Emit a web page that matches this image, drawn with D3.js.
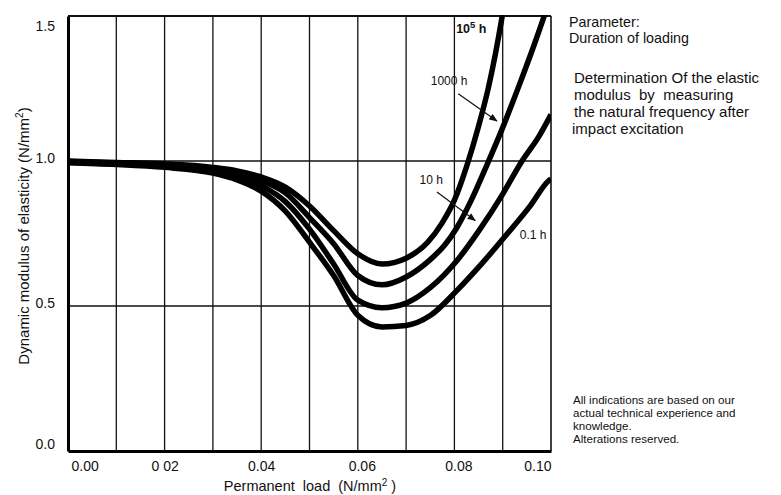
<!DOCTYPE html>
<html>
<head>
<meta charset="utf-8">
<script src="https://cdn.jsdelivr.net/npm/d3@7"></script>
<style>
  body { margin: 0; background: #fff; }
  svg { font-family: "Liberation Sans", Arial, sans-serif; }
  .note { fill: #111; }
</style>
</head>
<body>
<svg id="svg" width="781" height="495"></svg>
<script>
// values, x = permanent load (N/mm2), y = dynamic modulus (N/mm2)
var xTicks = [0, 0.02, 0.04, 0.06, 0.08, 0.10];
var xTickLabels = ["0.00", "0 02", "0.04", "0.06", "0.08", "0.10"];
var yTicks = [0, 0.5, 1.0, 1.5];
var yTickLabels = ["0.0", "0.5", "1.0", "1.5"];
var xGrid = [0.01, 0.02, 0.03, 0.04, 0.05, 0.06, 0.07, 0.08, 0.09];
var yGrid = [0.5, 1.0];

var load = {
  h1e5: [0, 0.01, 0.02, 0.03, 0.035, 0.04, 0.045, 0.05, 0.055, 0.06, 0.065, 0.07, 0.0745, 0.0774, 0.08, 0.0825, 0.085, 0.087, 0.0885, 0.0897, 0.0905],
  h1000: [0, 0.01, 0.02, 0.03, 0.035, 0.04, 0.045, 0.05, 0.055, 0.06, 0.065, 0.07, 0.075, 0.078, 0.0805, 0.0835, 0.0867, 0.09, 0.0935, 0.0965, 0.0985, 0.10],
  h10: [0, 0.01, 0.02, 0.03, 0.035, 0.04, 0.045, 0.05, 0.055, 0.06, 0.065, 0.07, 0.075, 0.0805, 0.0853, 0.090, 0.094, 0.0975, 0.10],
  h01: [0, 0.01, 0.02, 0.03, 0.035, 0.04, 0.045, 0.05, 0.055, 0.06, 0.065, 0.07, 0.075, 0.0805, 0.0853, 0.0909, 0.0957, 0.0994, 0.10]
};
var modulus = {
  h1e5: [1.0, 0.995, 0.99, 0.978, 0.966, 0.945, 0.91, 0.845, 0.76, 0.68, 0.645, 0.665, 0.72, 0.785, 0.865, 0.98, 1.12, 1.25, 1.37, 1.48, 1.56],
  h1000: [0.998, 0.993, 0.986, 0.972, 0.958, 0.932, 0.89, 0.805, 0.715, 0.605, 0.573, 0.60, 0.66, 0.71, 0.77, 0.865, 0.985, 1.115, 1.265, 1.40, 1.495, 1.57],
  h10: [0.996, 0.99, 0.982, 0.965, 0.948, 0.915, 0.86, 0.765, 0.645, 0.52, 0.494, 0.51, 0.563, 0.656, 0.765, 0.886, 1.0, 1.085, 1.16],
  h01: [0.994, 0.988, 0.978, 0.958, 0.935, 0.896, 0.827, 0.72, 0.605, 0.468, 0.428, 0.433, 0.467, 0.553, 0.639, 0.748, 0.845, 0.93, 0.938]
};
var seriesKeys = ["h1e5", "h1000", "h10", "h01"];

var margin = {top: 16, right: 230, bottom: 44, left: 68};
var width = 551 - margin.left;
var height = 451 - margin.top;

var svg = d3.select("#svg");
var xScale = d3.scaleLinear().domain([0, 0.10]).range([0, width]);
var yScale = d3.scaleLinear().domain([0, 1.5]).range([height, 0]);

svg.append("defs").append("clipPath").attr("id", "clip")
  .append("rect").attr("x", 0).attr("y", -1).attr("width", width).attr("height", height + 1);

var g = svg.append("g").attr("transform", `translate(${margin.left}, ${margin.top})`);

// grid
g.selectAll(".vgrid").data(xGrid).join("line")
  .attr("x1", d => xScale(d)).attr("x2", d => xScale(d))
  .attr("y1", 0).attr("y2", height)
  .attr("stroke", "#111").attr("stroke-width", 1.3);
g.selectAll(".hgrid").data(yGrid).join("line")
  .attr("x1", 0).attr("x2", width)
  .attr("y1", d => yScale(d)).attr("y2", d => yScale(d))
  .attr("stroke", "#111").attr("stroke-width", 1.5);

// frame
g.append("line").attr("x1", 0).attr("x2", width).attr("y1", 0).attr("y2", 0).attr("stroke", "#111").attr("stroke-width", 2);
g.append("line").attr("x1", width).attr("x2", width).attr("y1", 0).attr("y2", height).attr("stroke", "#111").attr("stroke-width", 1.6);

// curves
var line = d3.line()
  .x(d => xScale(d[0]))
  .y(d => yScale(d[1]))
  .curve(d3.curveMonotoneX);

g.append("g").attr("clip-path", "url(#clip)")
  .selectAll("path")
  .data(seriesKeys.map(k => d3.zip(load[k], modulus[k])))
  .join("path")
  .attr("fill", "none")
  .attr("stroke", "#000")
  .attr("stroke-width", 5.5)
  .attr("stroke-linejoin", "round")
  .attr("stroke-linecap", "butt")
  .attr("d", line);

// axes
var xAxis = g.append("g").attr("transform", `translate(0, ${height})`)
  .call(d3.axisBottom(xScale).tickValues(xTicks).tickSize(0).tickPadding(10)
    .tickFormat((d, i) => xTickLabels[i]));
xAxis.select(".domain").attr("stroke", "#000").attr("stroke-width", 3);
xAxis.selectAll("text").attr("font-size", 14).attr("fill", "#111").attr("font-family", "Liberation Sans, Arial, sans-serif");
xAxis.selectAll(".tick").filter((d, i) => i === 0).select("text").attr("text-anchor", "start").attr("dx", 3);
xAxis.selectAll(".tick").filter((d, i) => i === xTicks.length - 1).select("text").attr("text-anchor", "end").attr("dx", 0);
xAxis.selectAll(".tick").filter((d, i) => i === 3 || i === 4).select("text").attr("dx", 4);

var yAxis = g.append("g")
  .call(d3.axisLeft(yScale).tickValues(yTicks).tickSize(0).tickPadding(13)
    .tickFormat((d, i) => yTickLabels[i]));
yAxis.select(".domain").attr("stroke", "#000").attr("stroke-width", 3);
yAxis.selectAll("text").attr("font-size", 14).attr("fill", "#111").attr("font-family", "Liberation Sans, Arial, sans-serif")
  .attr("dy", d => d === 1.5 ? "1.0em" : d === 0 ? "-0.2em" : "0.12em");

// axis titles
svg.append("text")
  .attr("x", 310).attr("y", 491)
  .attr("text-anchor", "middle")
  .attr("font-size", 14.5).attr("fill", "#111")
  .attr("xml:space", "preserve")
  .html('Permanent  load  (N/mm<tspan dy="-5" font-size="10">2</tspan><tspan dy="5"> )</tspan>');

svg.append("text")
  .attr("transform", "translate(29, 236) rotate(-90)")
  .attr("text-anchor", "middle")
  .attr("font-size", 15).attr("fill", "#111")
  .html('Dynamic modulus of elasticity (N/mm<tspan dy="-6" font-size="10">2</tspan><tspan dy="6">)</tspan>');

// curve labels and arrows
svg.append("defs").append("marker")
  .attr("id", "arr").attr("viewBox", "0 0 10 10").attr("refX", 9).attr("refY", 5)
  .attr("markerWidth", 7).attr("markerHeight", 7).attr("orient", "auto")
  .append("path").attr("d", "M0,1 L10,5 L0,9 Z").attr("fill", "#111");

var labels = [
  {t: "1000 h", x: 0.0789, y: 1.262},
  {t: "10 h", x: 0.0752, y: 0.922},
  {t: "0.1 h", x: 0.0963, y: 0.730}
];
g.selectAll(".clab").data(labels).join("text")
  .attr("x", d => xScale(d.x)).attr("y", d => yScale(d.y))
  .attr("text-anchor", "middle")
  .attr("font-size", 12).attr("fill", "#111")
  .text(d => d.t);

g.append("text")
  .attr("x", xScale(0.0835)).attr("y", yScale(1.443))
  .attr("text-anchor", "middle")
  .attr("font-size", 12.5).attr("font-weight", "bold").attr("fill", "#111")
  .html('10<tspan dy="-5" font-size="9.5">5</tspan><tspan dy="5"> h</tspan>');

var arrows = [
  {x1: 0.0808, y1: 1.232, x2: 0.0888, y2: 1.138},
  {x1: 0.0764, y1: 0.893, x2: 0.0843, y2: 0.795}
];
g.selectAll(".arrow").data(arrows).join("line")
  .attr("x1", d => xScale(d.x1)).attr("y1", d => yScale(d.y1))
  .attr("x2", d => xScale(d.x2)).attr("y2", d => yScale(d.y2))
  .attr("stroke", "#111").attr("stroke-width", 1.2)
  .attr("marker-end", "url(#arr)");

// side notes
var paramLines = ["Parameter:", "Duration of loading"];
var methodLines = ["Determination Of the elastic", "modulus  by  measuring", "the natural frequency after", "impact excitation"];
var disclaimLines = ["All indications are based on our", "actual technical experience and", "knowledge.", "Alterations reserved."];

svg.append("g").selectAll("text").data(paramLines).join("text")
  .attr("class", "note").attr("font-size", 14.3)
  .attr("x", 569).attr("y", (d, i) => 27 + i * 16)
  .attr("xml:space", "preserve").text(d => d);
svg.append("g").selectAll("text").data(methodLines).join("text")
  .attr("class", "note").attr("font-size", 15)
  .attr("x", (d, i) => i === 3 ? 572 : 574).attr("y", (d, i) => 83 + i * 17)
  .attr("xml:space", "preserve").text(d => d);
svg.append("g").selectAll("text").data(disclaimLines).join("text")
  .attr("class", "note").attr("font-size", 11.6)
  .attr("x", 573).attr("y", (d, i) => 404 + i * 13)
  .text(d => d);
</script>
</body>
</html>
